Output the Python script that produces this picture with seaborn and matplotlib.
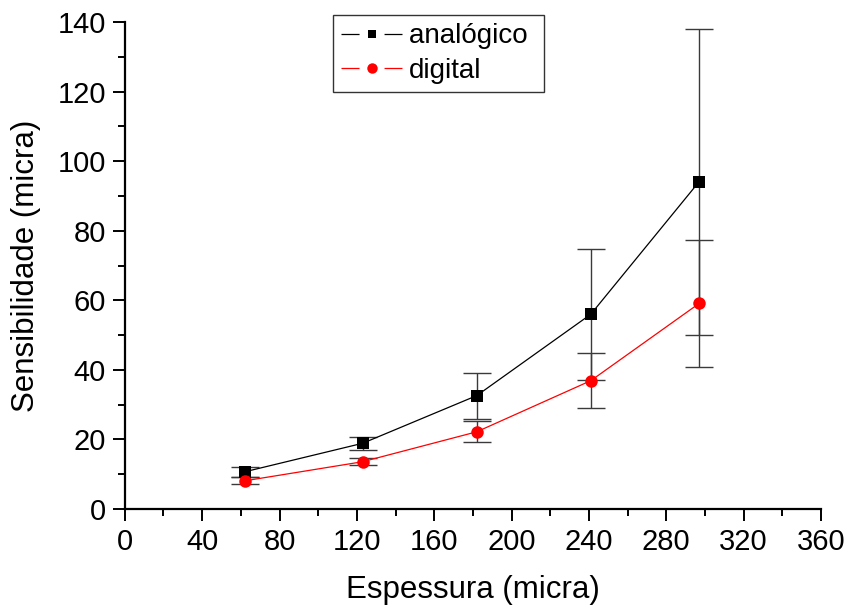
import matplotlib.pyplot as plt
import seaborn as sns
import pandas as pd
from matplotlib.lines import Line2D
from matplotlib.ticker import MultipleLocator

espessura_analog = [62, 123, 182, 241, 297]
sens_analog = [10.7, 18.9, 32.6, 56.0, 94.1]
err_analog = [1.5, 1.9, 6.6, 18.8, 44.0]

espessura_digital = [62, 123, 182, 241, 297]
sens_digital = [8.1, 13.6, 22.2, 36.9, 59.1]
err_digital = [1.0, 1.0, 3.0, 8.0, 18.2]

sns.set_style("ticks")
plt.rcParams['font.family'] = ['Liberation Sans', 'DejaVu Sans']
plt.rcParams['text.color'] = 'black'
plt.rcParams['axes.labelcolor'] = 'black'
plt.rcParams['xtick.color'] = 'black'
plt.rcParams['ytick.color'] = 'black'
plt.rcParams['lines.scale_dashes'] = False

df_a = pd.DataFrame({"x": espessura_analog, "y": sens_analog})
df_d = pd.DataFrame({"x": espessura_digital, "y": sens_digital})

fig = plt.figure(figsize=(8.49, 6.07), dpi=100)
ax = fig.add_axes([0.147, 0.1614, 0.82, 0.8024])

for x, y, e in [(espessura_analog, sens_analog, err_analog), (espessura_digital, sens_digital, err_digital)]:
    ax.errorbar(x, y, yerr=e, fmt='none', ecolor='#3a3a3a', elinewidth=1, capsize=10, capthick=1, zorder=1)

sns.lineplot(data=df_a, x="x", y="y", color="black", marker="s", markersize=8,
             markeredgewidth=0, linewidth=0.9, ax=ax, zorder=3)
sns.lineplot(data=df_d, x="x", y="y", color="red", marker="o", markersize=9,
             markeredgewidth=0, linewidth=0.9, ax=ax, zorder=3)

ax.set_xlim(0, 360)
ax.set_ylim(0, 140)
ax.xaxis.set_major_locator(MultipleLocator(40))
ax.xaxis.set_minor_locator(MultipleLocator(20))
ax.yaxis.set_major_locator(MultipleLocator(20))
ax.yaxis.set_minor_locator(MultipleLocator(10))
ax.tick_params(axis='both', which='major', labelsize=21, length=8.5, width=1.4, pad=5)
ax.tick_params(axis='both', which='minor', length=5, width=1.4)
for s in ['left', 'bottom']:
    ax.spines[s].set_linewidth(1.6)
    ax.spines[s].set_color('black')
sns.despine(ax=ax)

ax.set_xlabel("Espessura (micra)", fontsize=22.5, labelpad=14)
ax.set_ylabel("Sensibilidade (micra)", fontsize=22.5, labelpad=12)

seg, gap = 13, 18
handles = []
for c, m, ms in [("black", "s", 6), ("red", "o", 7.5)]:
    ln = Line2D([], [], color=c, linewidth=0.9, linestyle=(0, (seg, gap)))
    mk = Line2D([], [], color=c, marker=m, markersize=ms, markeredgewidth=0, linestyle='none')
    handles.append((ln, mk))

leg = ax.legend(handles, ["analógico ", "digital"], loc='upper left',
                bbox_to_anchor=(0.299, 1.014), borderaxespad=0,
                fontsize=20, frameon=True, fancybox=False, edgecolor='black',
                handlelength=(2 * seg + gap) / 20, handletextpad=0.25,
                borderpad=0.3, labelspacing=0.3)
leg.get_frame().set_linewidth(1)

fig.savefig("out.png", dpi=100)
